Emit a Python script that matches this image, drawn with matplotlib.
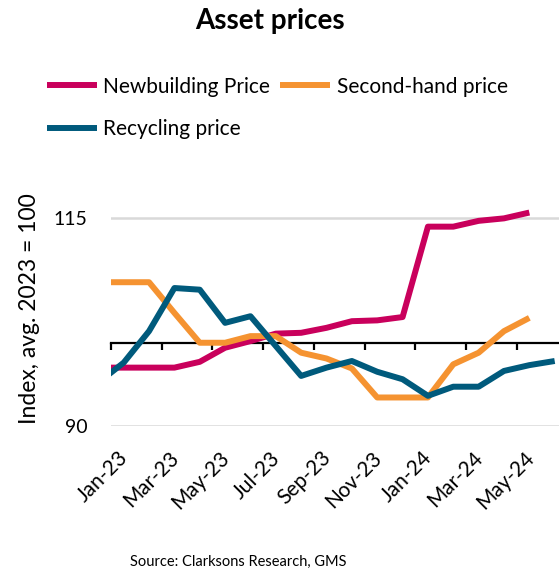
import numpy as np
import matplotlib
matplotlib.use("Agg")
import matplotlib.pyplot as plt
import matplotlib.transforms as mtransforms

plt.rcParams['font.family'] = ['Lato', 'DejaVu Sans']

# Datos (indice, promedio 2023 = 100), un punto por mes a mitad de mes, desde Dic-22
newbuilding = [97.0, 97.0, 97.0, 97.0, 97.7, 99.4, 100.2, 101.1, 101.2, 101.8,
               102.6, 102.7, 103.1, 114.0, 114.0, 114.7, 115.0, 115.7]
second_hand = [107.3, 107.3, 107.3, 103.6, 100.0, 100.0, 100.8, 100.8, 98.8, 98.1,
               96.9, 93.4, 93.4, 93.4, 97.4, 98.8, 101.4, 103.0]
recycling = [95.2, 97.6, 101.4, 106.6, 106.4, 102.4, 103.2, 99.6, 96.0, 97.0,
             97.8, 96.5, 95.6, 93.6, 94.7, 94.7, 96.6, 97.3, 97.8]

tick_labels = ['Jan-23', 'Mar-23', 'May-23', 'Jul-23', 'Sep-23',
               'Nov-23', 'Jan-24', 'Mar-24', 'May-24']
tick_pos = [0, 2, 4, 6, 8, 10, 12, 14, 16]  # meses desde Jan-23

series = [
    ('Newbuilding Price', newbuilding, '#C9005C'),
    ('Second-hand price', second_hand, '#F59331'),
    ('Recycling price', recycling, '#005A7C'),
]

fig = plt.figure(figsize=(5.59, 5.71), dpi=100)
ax = fig.add_axes([0.1986, 0.2545, 0.8014, 0.4357])

lines = {}
for nombre, valores, color in series:
    x = np.arange(len(valores)) - 0.5
    ln, = ax.plot(x, valores, color=color, linewidth=4.3, label=nombre,
                  solid_joinstyle='round', solid_capstyle='butt')
    lines[nombre] = ln

ax.set_xlim(0, 17.67)
ax.set_ylim(90, 120)

# Grilla horizontal
ax.set_yticks([90, 115])
ax.yaxis.grid(True, color='#D9D9D9', linewidth=1.8)
ax.set_axisbelow(True)
ax.tick_params(axis='y', length=0, labelsize=14, pad=17)

# Eje horizontal cruzando en 100
for lado in ['left', 'right', 'top']:
    ax.spines[lado].set_visible(False)
ax.spines['bottom'].set_position(('data', 100))
ax.spines['bottom'].set_linewidth(1.6)
ax.spines['bottom'].set_zorder(1)
ax.set_xticks(tick_pos)
ax.tick_params(axis='x', direction='out', length=5, width=1.6, labelbottom=False)

# Etiquetas del eje x en la parte baja
trans = mtransforms.blended_transform_factory(ax.transData, ax.transAxes)
trans = mtransforms.offset_copy(trans, fig=fig, x=14, y=0, units='dots')
for pos, lab in zip(tick_pos, tick_labels):
    ax.text(pos, -0.117, lab, transform=trans, rotation=45, rotation_mode='anchor',
            ha='right', va='center', fontsize=15)

ax.set_ylabel('Index, avg. 2023 = 100', fontsize=16.5)
ax.yaxis.set_label_coords(-0.158, 0.471)

fig.text(0.483, 0.963, 'Asset prices', ha='center', va='center',
         fontsize=20, fontweight='bold')

orden = ['Newbuilding Price', 'Recycling price', 'Second-hand price']
fig.legend([lines[n] for n in orden], orden, ncol=2, loc='upper left',
           bbox_to_anchor=(0.084, 0.866), frameon=False, fontsize=15,
           handlelength=2.4, handletextpad=0.3, columnspacing=0.5,
           labelspacing=1.1, borderpad=0, borderaxespad=0)

fig.text(0.2326, 0.016, 'Source: Clarksons Research, GMS', ha='left', va='center',
         fontsize=10.5)

fig.savefig('out.png', dpi=100)
